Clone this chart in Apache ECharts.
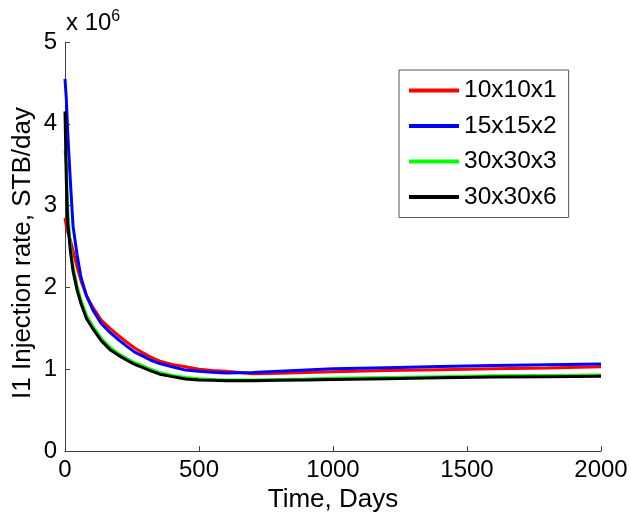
<!DOCTYPE html>
<html><head><meta charset="utf-8">
<script src="https://cdn.jsdelivr.net/npm/echarts@6/dist/echarts.min.js"></script>
<style>html,body{margin:0;padding:0;background:#fff}#c{width:631px;height:518px}</style>
</head><body><div id="c"></div>
<script>
// Time (days)
const days = [0,5,10,20,30,45,60,80,105,135,168,200,231,260,291,320,354,400,450,500,550,600,700,800,900,1000,1200,1400,1600,1800,2000];
// Injection rate, millions STB/day
const r10x10x1 = [2.85,2.75,2.68,2.58,2.45,2.25,2.08,1.9,1.75,1.6,1.5,1.41,1.33,1.26,1.2,1.15,1.1,1.06,1.03,1.0,0.985,0.975,0.945,0.95,0.96,0.97,0.985,0.995,1.005,1.015,1.03];
const r15x15x2 = [4.55,4.3,3.9,3.3,2.75,2.4,2.12,1.9,1.72,1.56,1.45,1.36,1.28,1.21,1.16,1.11,1.07,1.03,0.99,0.975,0.965,0.955,0.96,0.975,0.99,1.005,1.02,1.035,1.045,1.055,1.065];
const r30x30x3 = [3.68,3.5,2.95,2.5,2.26,2.02,1.84,1.66,1.52,1.38,1.27,1.19,1.13,1.08,1.04,1.0,0.96,0.925,0.9,0.885,0.875,0.87,0.87,0.875,0.88,0.89,0.9,0.91,0.92,0.925,0.93];
const r30x30x6 = [4.15,3.3,2.8,2.45,2.2,1.97,1.8,1.62,1.49,1.35,1.24,1.17,1.11,1.06,1.02,0.98,0.94,0.91,0.88,0.87,0.865,0.86,0.86,0.865,0.87,0.875,0.885,0.895,0.905,0.91,0.915];
const seriesNames = ['10x10x1','15x15x2','30x30x3','30x30x6'];
const seriesColors = ['#ff0000','#0000ff','#00ff00','#000000'];
const seriesData = [r10x10x1, r15x15x2, r30x30x3, r30x30x6];
const xTicks = [0,500,1000,1500,2000];
const yTicks = [0,1,2,3,4,5];

const font = "'Liberation Sans', Arial, sans-serif";
const chart = echarts.init(document.getElementById('c'), null, {renderer:'canvas'});
const axisCol = '#404040';
chart.setOption({
  animation:false,
  backgroundColor:'#fff',
  grid:{left:65,right:30,top:42,bottom:66},
  xAxis:{type:'value',min:xTicks[0],max:xTicks[xTicks.length-1],interval:xTicks[1]-xTicks[0],
    name:'Time, Days',nameLocation:'middle',nameGap:31,
    nameTextStyle:{fontFamily:font,fontSize:26,color:'#000'},
    axisLine:{lineStyle:{color:axisCol,width:1}},
    axisTick:{inside:true,length:5,lineStyle:{color:axisCol}},
    axisLabel:{fontFamily:font,fontSize:24,color:'#000',margin:7,formatter:v=>String(v)},
    splitLine:{show:false}},
  yAxis:{type:'value',min:yTicks[0],max:yTicks[yTicks.length-1],interval:1,
    axisLine:{show:true,lineStyle:{color:axisCol,width:1}},
    axisTick:{show:true,inside:true,length:5,lineStyle:{color:axisCol}},
    axisLabel:{fontFamily:font,fontSize:24,color:'#000',margin:8,formatter:v=>String(v)},
    splitLine:{show:false}},
  legend:{orient:'vertical',left:399,top:70,
    padding:[8,12,8,10],itemGap:10.5,itemWidth:50,itemHeight:4,
    icon:'rect',borderColor:'#555',borderWidth:1,backgroundColor:'#fff',
    textStyle:{fontFamily:font,fontSize:24.5,color:'#000',lineHeight:24},
    data:seriesNames},
  graphic:[
    {type:'text',left:66,top:9,style:{
      text:'x 10{s|6}',fontFamily:font,fontSize:24,fill:'#000',
      rich:{s:{fontSize:16,verticalAlign:'top',fontFamily:font,padding:[0,0,12,0]}}}},
    {type:'text',x:23,y:253,rotation:Math.PI/2,style:{
      text:'I1 Injection rate, STB/day',fontFamily:font,fontSize:26,fill:'#000',
      align:'center',verticalAlign:'middle'}}
  ],
  series:seriesNames.map((n,i)=>({
    name:n,type:'line',showSymbol:false,symbol:'none',
    data:days.map((d,k)=>[d,seriesData[i][k]]),
    lineStyle:{color:seriesColors[i],width:3},
    itemStyle:{color:seriesColors[i]},
    z:2+i
  }))
});
</script></body></html>
